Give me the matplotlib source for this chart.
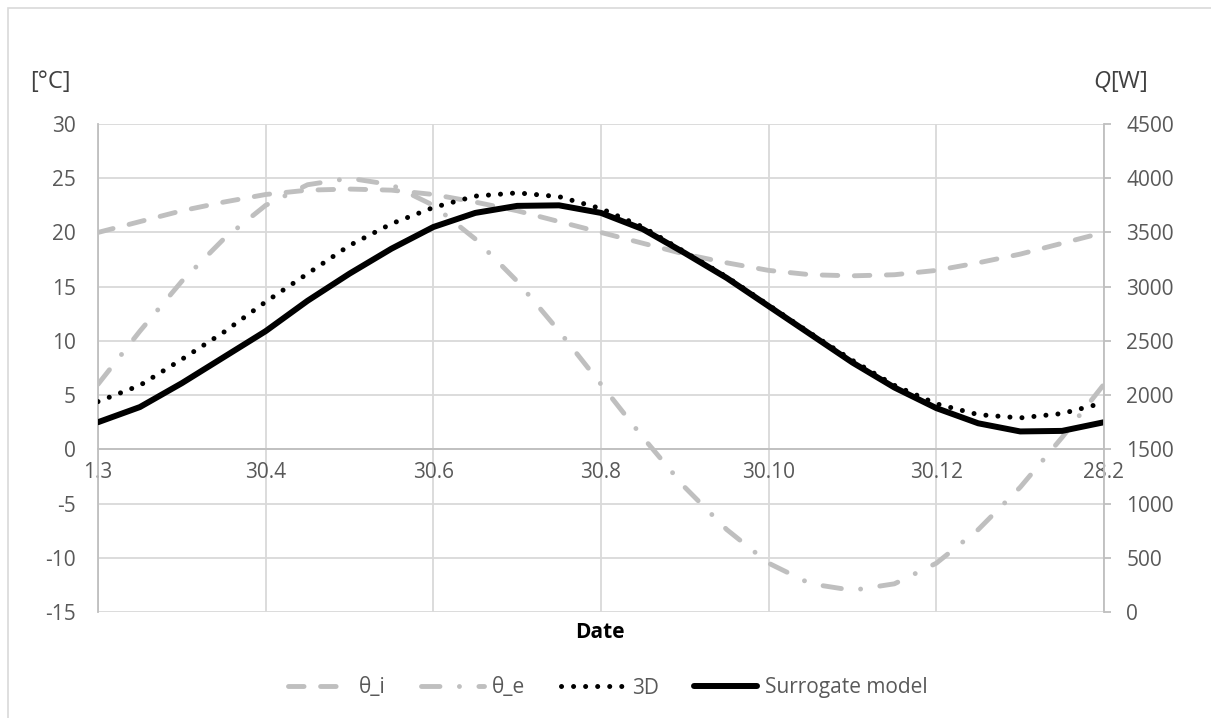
import matplotlib.pyplot as plt
from matplotlib.lines import Line2D
from matplotlib.patches import Rectangle

###############################################################################

plt.rcParams.update({
    "font.family": ["Open Sans", "DejaVu Sans"],
    "font.size": 15,
    "axes.unicode_minus": False,
    "mathtext.fontset": "custom",
    "mathtext.it": "Open Sans:italic",
    "mathtext.rm": "Open Sans",
})

GREY = "#BFBFBF"
GRID = "#D9D9D9"
TEXT = "#595959"
DARK = "#404040"

###############################################################################

# x values in months from 1.3, half-month steps
months = [0, 0.5, 1, 1.5, 2, 2.5, 3, 3.5, 4, 4.5, 5, 5.5, 6,
          6.5, 7, 7.5, 8, 8.5, 9, 9.5, 10, 10.5, 11, 11.5, 12]
date_ticks = [0, 2, 4, 6, 8, 10, 12]
date_labels = ["1.3", "30.4", "30.6", "30.8", "30.10", "30.12", "28.2"]

# temperatures [°C]
theta_i = [20, 21.0, 22, 22.8, 23.5, 23.9, 24, 23.9, 23.5, 22.8, 22, 21.0, 20,
           19.0, 18, 17.2, 16.5, 16.1, 16, 16.1, 16.5, 17.2, 18, 19.0, 20]
theta_e = [6, 10.9, 15.5, 19.4, 22.5, 24.4, 25, 24.4, 22.5, 19.4, 15.5, 10.9,
           6, 1.1, -3.5, -7.4, -10.5, -12.4, -13, -12.4, -10.5, -7.4, -3.5,
           1.1, 6]

# heat flow [W]
q_3d = [1940, 2090, 2330, 2580, 2860, 3120, 3380, 3580, 3730, 3835, 3865,
        3830, 3720, 3550, 3320, 3090, 2830, 2570, 2320, 2090, 1920, 1820,
        1790, 1830, 1930]
q_surrogate = [1750, 1890, 2110, 2350, 2590, 2870, 3120, 3350, 3550, 3680,
               3745, 3750, 3680, 3530, 3310, 3080, 2820, 2560, 2300, 2070,
               1880, 1740, 1665, 1670, 1750]

###############################################################################

fig = plt.figure(figsize=(12.11, 7.18), dpi=100)
fig.patches.append(Rectangle((8/1211, -0.1), 2.0, 1.1 - 8/718,
                             transform=fig.transFigure, fill=False,
                             edgecolor=GRID, linewidth=1.2))

ax = fig.add_axes([98/1211, 1-612/718, 1006/1211, 488/718])
ax2 = ax.twinx()

style_i = dict(color=GREY, linewidth=3.5, dashes=(3.2, 3.4),
               dash_capstyle="round")
style_e = dict(color=GREY, linewidth=3.5, dashes=(3.8, 4.0, 0.01, 4.0),
               dash_capstyle="round")
style_3d = dict(color="black", linewidth=3.6, dashes=(0.01, 2.4),
                dash_capstyle="round")
style_sur = dict(color="black", linewidth=4.3, solid_capstyle="round",
                 solid_joinstyle="round")

ax.plot(months, theta_i, **style_i)
ax.plot(months, theta_e, **style_e)
ax2.plot(months, q_3d, **style_3d)
ax2.plot(months, q_surrogate, **style_sur)

ax.set_xlim(0, 12)
ax.set_ylim(-15, 30)
ax.set_yticks(range(-15, 31, 5))
ax.set_xticks(date_ticks, date_labels)
ax2.set_ylim(0, 4500)
ax2.set_yticks(range(0, 4501, 500))

ax.grid(True, color=GRID, linewidth=1.3)
ax.set_axisbelow(True)

ax.spines.top.set_visible(False)
ax.spines.right.set_visible(False)
ax.spines.left.set_color(GREY)
ax.spines.left.set_linewidth(1.3)
ax.spines.bottom.set_position(("data", 0))
ax.spines.bottom.set_color(GREY)
ax.spines.bottom.set_linewidth(1.3)
for s in ["top", "left", "bottom"]:
    ax2.spines[s].set_visible(False)
ax2.spines.right.set_color(GREY)
ax2.spines.right.set_linewidth(1.3)

ax.tick_params(axis="y", length=0, pad=16, labelcolor=TEXT, labelsize=15)
ax.tick_params(axis="x", length=0, pad=9, labelcolor=TEXT, labelsize=15)
ax2.tick_params(axis="y", length=5, width=1.3, color=GREY, pad=11,
                labelcolor=TEXT, labelsize=15)

fig.text(50/1211, 1-82/718, "[°C]", ha="center", va="center",
         fontsize=17, color=DARK)
fig.text(1120/1211, 1-82/718, r"$\mathit{Q}$[W]", ha="center", va="center",
         fontsize=17, color=DARK)
fig.text(600/1211, 1-633/718, "Date", ha="center", va="center",
         fontsize=15, fontweight="bold", color="black")

handles = [Line2D([], [], **style_i), Line2D([], [], **style_e),
           Line2D([], [], **style_3d), Line2D([], [], **style_sur)]
fig.legend(handles, ["θ_i", "θ_e", "3D", "Surrogate model"],
           loc="center", bbox_to_anchor=(608/1211, 1-688/718), ncol=4,
           frameon=False, fontsize=15, labelcolor=TEXT, handlelength=3.0,
           handletextpad=0.4, columnspacing=1.7)

fig.savefig("out.png", dpi=100)
